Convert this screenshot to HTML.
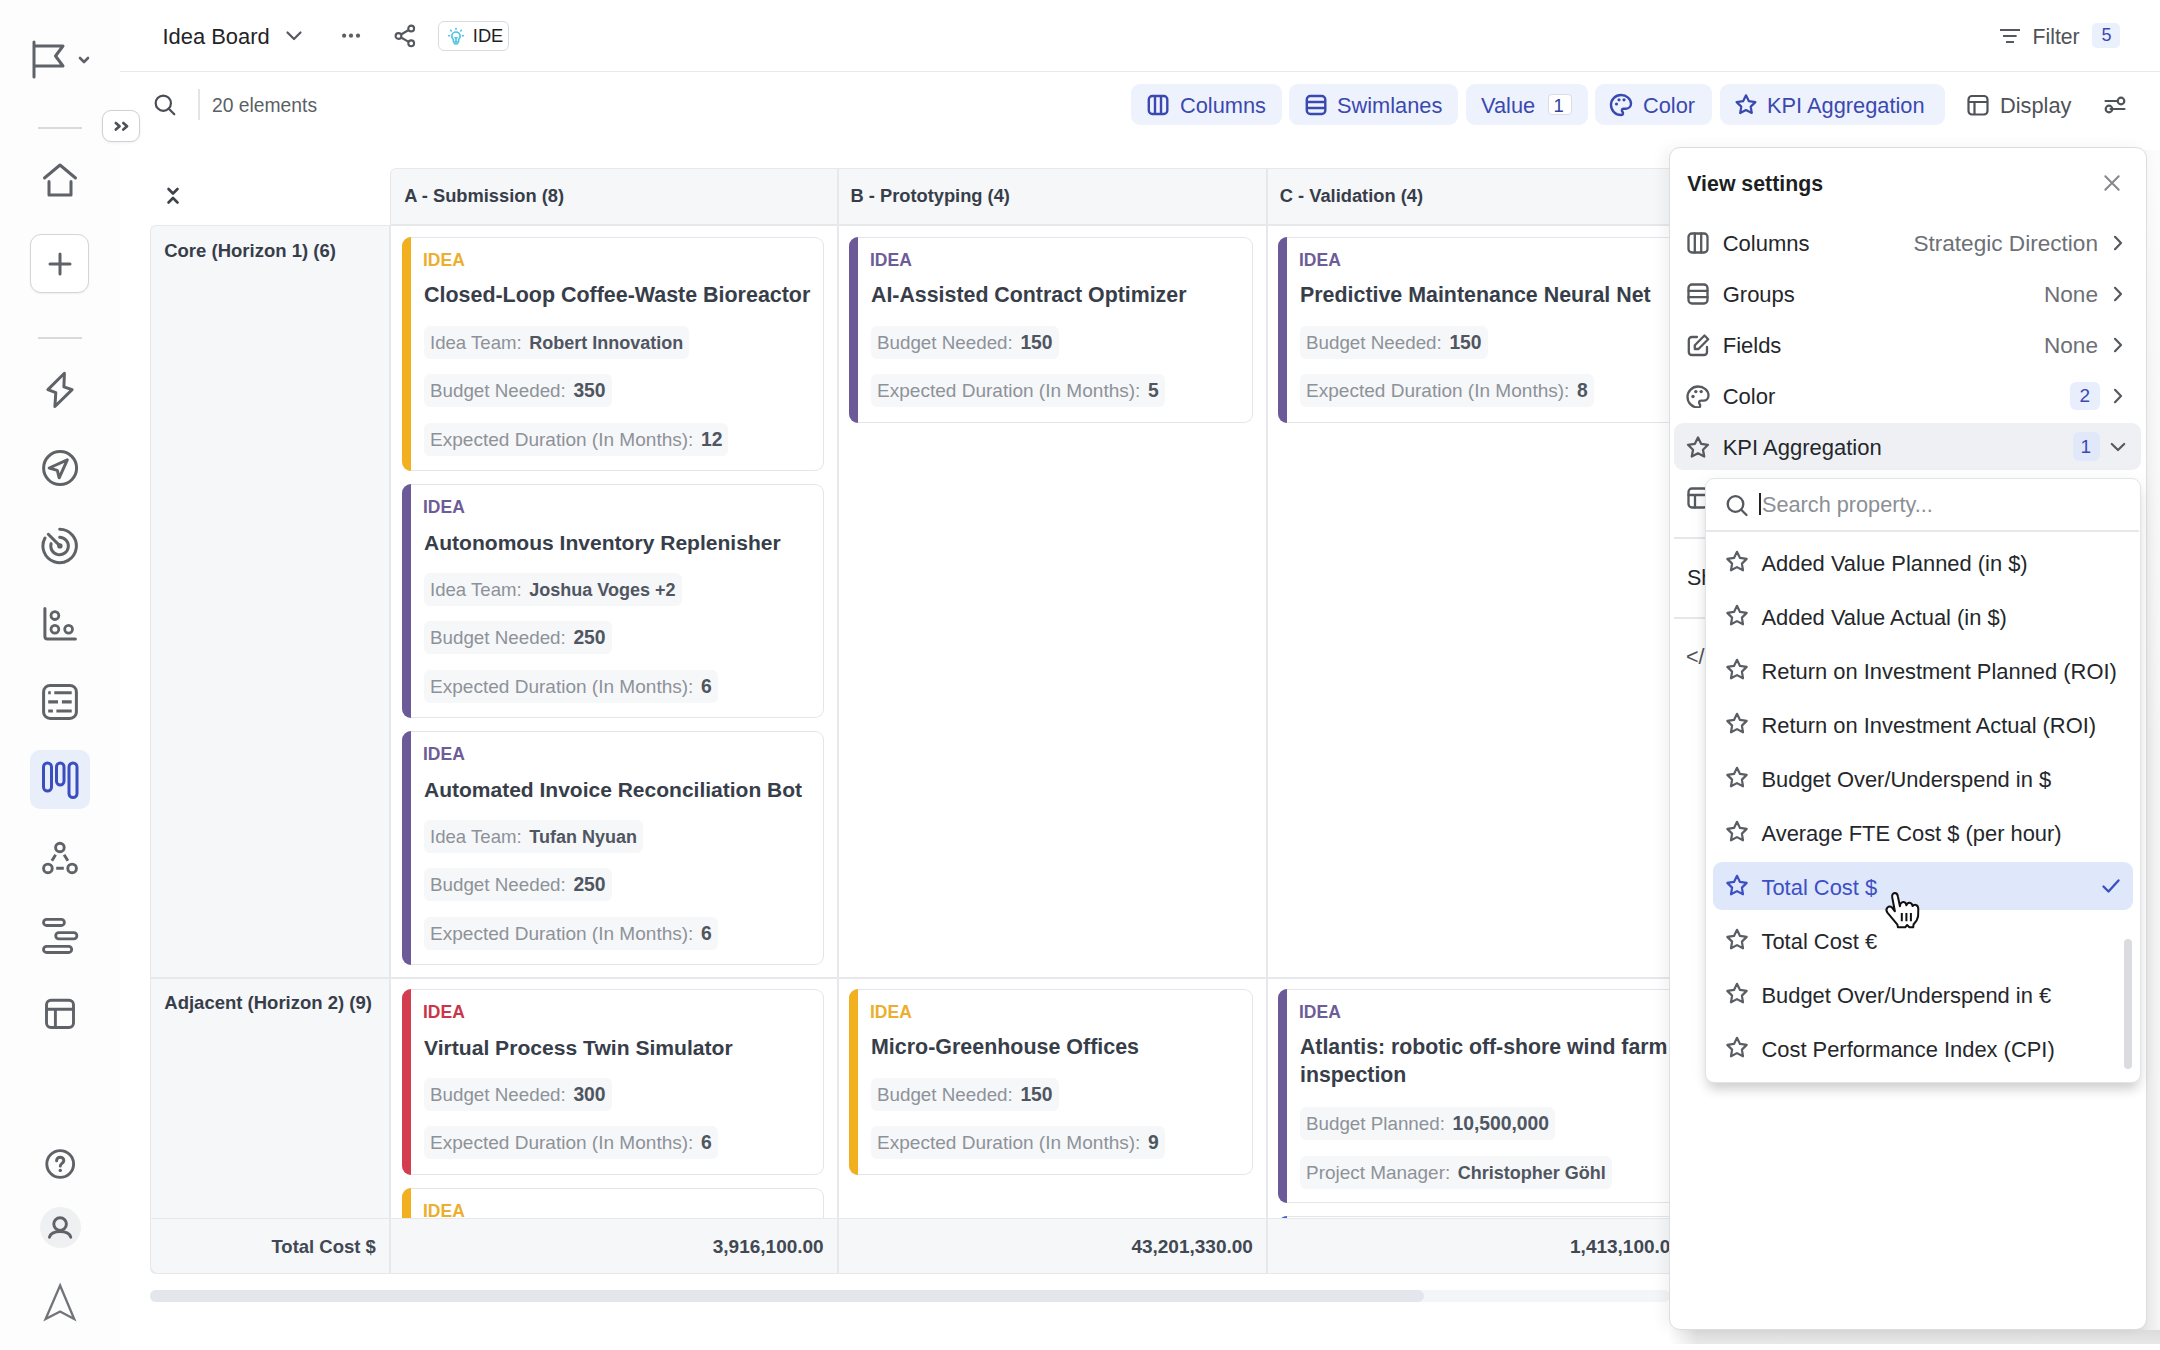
<!DOCTYPE html><html><head><meta charset="utf-8"><style>
html,body{margin:0;padding:0;width:2160px;height:1350px;overflow:hidden;background:#fff;}
body{position:relative;font-family:"Liberation Sans",sans-serif;}
.t{position:absolute;white-space:nowrap;line-height:1;}
.r{position:absolute;}
</style></head><body>
<div class="r" style="left:0px;top:0px;width:120px;height:1350px;background:#fdfdfd;"></div>
<svg class="r" style="left:28px;top:38px;" width="64" height="44" viewBox="0 0 64 44" fill="none"><path d="M6 39V4 M6 8H35L27.5 18L35 28H6" stroke="#5f6368" stroke-width="3" stroke-linecap="round" stroke-linejoin="round"/><path d="M52 20L56 24L60 20" stroke="#5f6368" stroke-width="2.6" stroke-linecap="round" stroke-linejoin="round"/></svg>
<div class="r" style="left:38px;top:127px;width:44px;height:2px;background:#d9dadc;"></div>
<svg class="r" style="left:40px;top:160px;" width="40" height="40" viewBox="0 0 40 40" fill="none"><path d="M4.5 18L20 5L35.5 18 M9 21.5V35H31V21.5" stroke="#5f6368" stroke-width="3" stroke-linecap="round" stroke-linejoin="round"/></svg>
<div class="r" style="left:30px;top:234px;width:59px;height:59px;background:#fff;border:1.5px solid #d3d5d8;border-radius:11px;box-sizing:border-box;box-shadow:0 1px 2px rgba(0,0,0,0.06);"></div>
<svg class="r" style="left:45px;top:249px;" width="30" height="30" viewBox="0 0 30 30" fill="none"><path d="M15 5V25 M5 15H25" stroke="#5f6368" stroke-width="3" stroke-linecap="round" stroke-linejoin="round"/></svg>
<div class="r" style="left:38px;top:337px;width:44px;height:2px;background:#d9dadc;"></div>
<svg class="r" style="left:42px;top:369px;" width="36" height="42" viewBox="0 0 36 42" fill="none"><path d="M22.4 4.3L5.9 20.6L13.8 23.6L12.9 37.5L30.1 20.6L21.9 17.8Z" stroke="#5f6368" stroke-width="3" stroke-linecap="round" stroke-linejoin="round"/></svg>
<svg class="r" style="left:40px;top:448px;" width="40" height="40" viewBox="0 0 40 40" fill="none"><circle cx="20.1" cy="20.1" r="16.5" stroke="#5f6368" stroke-width="3" stroke-linecap="round" stroke-linejoin="round"/><path d="M27.3 11.8L9.2 20L17.3 22.4L19.2 29.8Z" stroke="#5f6368" stroke-width="3" stroke-linecap="round" stroke-linejoin="round"/></svg>
<svg class="r" style="left:40px;top:526px;" width="40" height="40" viewBox="0 0 40 40" fill="none"><path d="M19.7 3.3A16.7 16.7 0 1 1 5 12" stroke="#5f6368" stroke-width="3" stroke-linecap="round" stroke-linejoin="round"/><path d="M19.7 11.2A8.8 8.8 0 1 1 11.1 17.6" stroke="#5f6368" stroke-width="3" stroke-linecap="round" stroke-linejoin="round"/><path d="M8.3 8.3L19.9 19.9" stroke="#5f6368" stroke-width="3" stroke-linecap="round" stroke-linejoin="round"/><circle cx="19.9" cy="19.9" r="2.7" fill="#5f6368"/></svg>
<svg class="r" style="left:40px;top:604px;" width="40" height="40" viewBox="0 0 40 40" fill="none"><path d="M4.9 4.4V32.4Q4.9 34.9 7.4 34.9H35.4" stroke="#5f6368" stroke-width="3" stroke-linecap="round" stroke-linejoin="round"/><circle cx="14.9" cy="11.6" r="3.9" stroke="#5f6368" stroke-width="2.8"/><circle cx="14.9" cy="25.3" r="3.9" stroke="#5f6368" stroke-width="2.8"/><circle cx="28.6" cy="25.3" r="3.9" stroke="#5f6368" stroke-width="2.8"/></svg>
<svg class="r" style="left:40px;top:682px;" width="40" height="40" viewBox="0 0 40 40" fill="none"><rect x="3.6" y="3.4" width="32.8" height="33" rx="6.5" stroke="#5f6368" stroke-width="3"/><path d="M8.2 10.8H10.8 M14.3 10.8H31.7 M8.2 19.9H18 M21.9 19.9H31.7 M8.2 29H12.9 M16.4 29H31.7" stroke="#5f6368" stroke-width="3.1"/></svg>
<div class="r" style="left:30px;top:750px;width:60px;height:59px;background:#e9eefb;border-radius:10px;"></div>
<svg class="r" style="left:40px;top:760px;" width="40" height="40" viewBox="0 0 40 40" fill="none"><rect x="3.5" y="3" width="8" height="28" rx="4" stroke="#3a4ec0" stroke-width="3"/><rect x="16.5" y="3" width="7.5" height="22" rx="3.75" stroke="#3a4ec0" stroke-width="3"/><rect x="29" y="3" width="8" height="34.5" rx="4" stroke="#3a4ec0" stroke-width="3"/></svg>
<svg class="r" style="left:40px;top:838px;" width="40" height="40" viewBox="0 0 40 40" fill="none"><circle cx="19.9" cy="9.5" r="4.3" stroke="#5f6368" stroke-width="2.9"/><circle cx="7.9" cy="30.4" r="4.3" stroke="#5f6368" stroke-width="2.9"/><circle cx="32.1" cy="30.4" r="4.3" stroke="#5f6368" stroke-width="2.9"/><path d="M15.6 16.7L11.9 22.7 M24.1 16.7L27.9 22.7 M16.2 30.3H23.8" stroke="#5f6368" stroke-width="2.9"/></svg>
<svg class="r" style="left:40px;top:916px;" width="40" height="40" viewBox="0 0 40 40" fill="none"><rect x="3.5" y="3.4" width="20.9" height="6.1" rx="3.05" stroke="#5f6368" stroke-width="2.8"/><rect x="15.7" y="16.7" width="21.2" height="6.1" rx="3.05" stroke="#5f6368" stroke-width="2.8"/><rect x="3.5" y="30.4" width="28.2" height="6.1" rx="3.05" stroke="#5f6368" stroke-width="2.8"/></svg>
<svg class="r" style="left:40px;top:994px;" width="40" height="40" viewBox="0 0 40 40" fill="none"><rect x="6.5" y="6.3" width="27" height="27.2" rx="4.5" stroke="#5f6368" stroke-width="2.9"/><path d="M6.5 15.3H33.5 M15.4 15.3V33.5" stroke="#5f6368" stroke-width="2.9"/></svg>
<svg class="r" style="left:40px;top:1144px;" width="40" height="40" viewBox="0 0 40 40" fill="none"><circle cx="20.2" cy="20" r="13.4" stroke="#5f6368" stroke-width="2.9"/><path d="M16.6 16.8C16.6 14.6 18.2 13.2 20.2 13.2C22.3 13.2 23.8 14.6 23.8 16.5C23.8 19.2 20.3 19.4 20.3 22" stroke="#5f6368" stroke-width="3" stroke-linecap="round" stroke-linejoin="round"/><circle cx="20.3" cy="26.4" r="1.7" fill="#5f6368"/></svg>
<div class="r" style="left:40px;top:1207px;width:41px;height:41px;background:#eff0f2;border-radius:50%;"></div>
<svg class="r" style="left:40px;top:1207px;" width="40" height="40" viewBox="0 0 40 40" fill="none"><circle cx="20.1" cy="17.1" r="6.3" stroke="#5f6368" stroke-width="2.9"/><path d="M9.5 30.2C10.5 26.6 14.5 24.6 20.1 24.6C25.7 24.6 29.7 26.6 30.7 30.2" stroke="#5f6368" stroke-width="3" stroke-linecap="round" stroke-linejoin="round"/></svg>
<svg class="r" style="left:40px;top:1280px;" width="40" height="44" viewBox="0 0 40 44" fill="none"><path d="M20.1 5.5L5.6 39L20.1 31.5L34.2 39Z" stroke="#717479" stroke-width="2.3" stroke-linejoin="miter"/></svg>
<div class="r" style="left:120px;top:71px;width:2040px;height:1.2px;background:#e8e9eb;"></div>
<div class="r" style="left:102px;top:110px;width:38px;height:32px;background:#fff;border:1.5px solid #d0d1d4;border-radius:9px;box-sizing:border-box;box-shadow:0 1px 3px rgba(0,0,0,0.06);"></div>
<svg class="r" style="left:111px;top:116px;" width="20" height="20" viewBox="0 0 20 20" fill="none"><path d="M4.8 7L8.6 10.3L4.8 13.6 M12.3 7L16.1 10.3L12.3 13.6" stroke="#4d5055" stroke-width="2.6" stroke-linecap="round" stroke-linejoin="round"/></svg>
<div class="t" style="left:162.5px;top:26.0px;font-size:21.9px;font-weight:normal;color:#1f2328;">Idea Board</div>
<svg class="r" style="left:282px;top:28px;" width="24" height="16" viewBox="0 0 24 16" fill="none"><path d="M5.5 4.5L12 11L18.5 4.5" stroke="#55585d" stroke-width="2.2" stroke-linecap="round" stroke-linejoin="round"/></svg>
<svg class="r" style="left:338px;top:30px;" width="26" height="12" viewBox="0 0 26 12" fill="none"><circle cx="6.1" cy="5.7" r="2.1" fill="#5b5e63"/><circle cx="13" cy="5.7" r="2.1" fill="#5b5e63"/><circle cx="20" cy="5.7" r="2.1" fill="#5b5e63"/></svg>
<svg class="r" style="left:392px;top:22px;" width="26" height="28" viewBox="0 0 26 28" fill="none"><circle cx="19.2" cy="6.5" r="2.9" stroke="#55585d" stroke-width="2.1"/><circle cx="6.5" cy="14" r="2.9" stroke="#55585d" stroke-width="2.1"/><circle cx="19.2" cy="21.3" r="2.9" stroke="#55585d" stroke-width="2.1"/><path d="M9 12.5L16.7 8 M9 15.5L16.7 19.8" stroke="#55585d" stroke-width="2.1"/></svg>
<div class="r" style="left:438px;top:21px;width:71px;height:30px;border:1.5px solid #d8dadd;border-radius:6px;box-sizing:border-box;background:#fff;"></div>
<svg class="r" style="left:446px;top:26px;" width="20" height="20" viewBox="0 0 20 20" fill="none"><path d="M10 6C7.6 6 5.8 7.9 5.8 10.2C5.8 11.8 6.7 12.8 7.4 13.6V16H12.6V13.6C13.3 12.8 14.2 11.8 14.2 10.2C14.2 7.9 12.4 6 10 6Z M8.3 17.8H11.7 M9 11.5L10 12.5L11 11.5 M10 12.5V15.5" stroke="#4cc3e0" stroke-width="1.6" stroke-linecap="round" stroke-linejoin="round"/><path d="M10 2.2V3.2 M4.6 4.2L5.3 4.9 M15.4 4.2L14.7 4.9 M2.6 9.8H3.6 M16.4 9.8H17.4" stroke="#4cc3e0" stroke-width="1.5" stroke-linecap="round"/></svg>
<div class="t" style="left:472.8px;top:26.8px;font-size:18.3px;font-weight:normal;color:#1d1f22;">IDE</div>
<svg class="r" style="left:1996px;top:24px;" width="28" height="24" viewBox="0 0 28 24" fill="none"><path d="M4 6H24 M7 12H20.6 M10 18H18" stroke="#55585d" stroke-width="2.1"/></svg>
<div class="t" style="left:2032.6px;top:25.6px;font-size:21.2px;font-weight:normal;color:#4f5257;">Filter</div>
<div class="r" style="left:2092px;top:23px;width:28px;height:25px;background:#ebf0fd;border-radius:5px;"></div>
<div class="t" style="left:2101.5px;top:26.1px;font-size:18px;font-weight:normal;color:#3b49b4;">5</div>
<svg class="r" style="left:150px;top:90px;" width="30" height="30" viewBox="0 0 30 30" fill="none"><circle cx="13.3" cy="13.2" r="7.6" stroke="#4a4e54" stroke-width="2.2"/><path d="M18.8 18.8L24.3 24.3" stroke="#4a4e54" stroke-width="2.2" stroke-linecap="round"/></svg>
<div class="r" style="left:198px;top:89px;width:1.5px;height:31px;background:#e3e4e7;"></div>
<div class="t" style="left:212.0px;top:95.5px;font-size:19.3px;font-weight:normal;color:#5b5f66;">20 elements</div>
<div class="r" style="left:1131px;top:84px;width:151px;height:41px;background:#eef2fd;border-radius:9px;"></div>
<div class="t" style="left:1180.0px;top:95.0px;font-size:21.8px;font-weight:normal;color:#3a49b0;">Columns</div>
<svg class="r" style="left:1146px;top:94px;" width="24" height="22" viewBox="0 0 24 22" fill="none"><rect x="2.8" y="2" width="18.5" height="18" rx="3.5" stroke="#3a49b0" stroke-width="2.4"/><path d="M9 2V20 M15 2V20" stroke="#3a49b0" stroke-width="2.4"/></svg>
<div class="r" style="left:1289px;top:84px;width:169px;height:41px;background:#eef2fd;border-radius:9px;"></div>
<div class="t" style="left:1337.0px;top:95.0px;font-size:21.8px;font-weight:normal;color:#3a49b0;">Swimlanes</div>
<svg class="r" style="left:1304px;top:94px;" width="24" height="22" viewBox="0 0 24 22" fill="none"><rect x="2.8" y="2" width="18.5" height="18" rx="3.5" stroke="#3a49b0" stroke-width="2.4"/><path d="M2.8 8H21.3 M2.8 14H21.3" stroke="#3a49b0" stroke-width="2.4"/></svg>
<div class="r" style="left:1466px;top:84px;width:122px;height:41px;background:#eef2fd;border-radius:9px;"></div>
<div class="t" style="left:1481.0px;top:95.0px;font-size:21.8px;font-weight:normal;color:#3a49b0;">Value</div>
<div class="r" style="left:1548px;top:94px;width:24px;height:21px;background:#fff;border:1.2px solid #d9dde8;border-radius:4px;box-sizing:border-box;"></div>
<div class="t" style="left:1553.5px;top:96.8px;font-size:18.5px;font-weight:normal;color:#3540a0;">1</div>
<div class="r" style="left:1595px;top:84px;width:117px;height:41px;background:#eef2fd;border-radius:9px;"></div>
<div class="t" style="left:1643.0px;top:95.0px;font-size:21.8px;font-weight:normal;color:#3a49b0;">Color</div>
<svg class="r" style="left:1608px;top:92px;" width="26" height="26" viewBox="0 0 26 26" fill="none"><path d="M13 3C7.5 3 3 7.5 3 13C3 18.5 7.5 23 13 23C14.3 23 15 22.2 15 21.2C15 20.6 14.7 20.2 14.4 19.8C14.1 19.4 13.9 19 13.9 18.5C13.9 17.5 14.7 16.7 15.7 16.7H18C20.8 16.7 23 14.5 23 11.8C23 6.9 18.5 3 13 3Z" stroke="#3a49b0" stroke-width="2.4"/><circle cx="8.5" cy="12" r="1.6" fill="#3a49b0"/><circle cx="11" cy="7.8" r="1.6" fill="#3a49b0"/><circle cx="16" cy="7.8" r="1.6" fill="#3a49b0"/></svg>
<div class="r" style="left:1720px;top:84px;width:225px;height:41px;background:#eef2fd;border-radius:9px;"></div>
<div class="t" style="left:1767.0px;top:95.0px;font-size:21.8px;font-weight:normal;color:#3a49b0;">KPI Aggregation</div>
<svg class="r" style="left:1733px;top:92px;" width="26" height="26" viewBox="0 0 26 26" fill="none"><path d="M13 3.3L15.9 9.2L22.4 10.1L17.7 14.6L18.8 21L13 18L7.2 21L8.3 14.6L3.6 10.1L10.1 9.2Z" stroke="#3a49b0" stroke-width="2.2" stroke-linejoin="round"/></svg>
<svg class="r" style="left:1966px;top:94px;" width="24" height="22" viewBox="0 0 24 22" fill="none"><rect x="2.5" y="2" width="19" height="18.5" rx="3.5" stroke="#4f5257" stroke-width="2.2"/><path d="M2.5 8H21.5 M8.5 8V20.5" stroke="#4f5257" stroke-width="2.2"/></svg>
<div class="t" style="left:2000.0px;top:95.0px;font-size:21.8px;font-weight:normal;color:#4f5257;">Display</div>
<svg class="r" style="left:2100px;top:90px;" width="30" height="30" viewBox="0 0 30 30" fill="none"><path d="M5.5 11H17.5 M10.5 19H24.5" stroke="#4f5257" stroke-width="2.2" stroke-linecap="round"/><circle cx="21" cy="11" r="3.3" stroke="#4f5257" stroke-width="2.2"/><circle cx="9" cy="19" r="3.3" stroke="#4f5257" stroke-width="2.2"/></svg>
<svg class="r" style="left:163px;top:185px;" width="20" height="22" viewBox="0 0 20 22" fill="none"><path d="M5.5 4L10 8.5L14.5 4 M5.5 17.5L10 13L14.5 17.5" stroke="#3d424b" stroke-width="2.6" stroke-linecap="round" stroke-linejoin="round"/></svg>
<div class="r" style="left:390px;top:168px;width:1300px;height:57px;background:#f6f7f9;border:1.5px solid #e6e8eb;border-bottom:none;border-top-left-radius:6px;box-sizing:border-box;"></div>
<div class="r" style="left:390px;top:224px;width:1300px;height:1.5px;background:#e6e8eb;"></div>
<div class="r" style="left:150px;top:225px;width:240px;height:1049px;background:#f6f7f9;border:1.5px solid #e6e8eb;border-right:none;border-top-left-radius:6px;border-bottom-left-radius:6px;box-sizing:border-box;"></div>
<div class="r" style="left:389px;top:225px;width:1.5px;height:1049px;background:#e6e8eb;"></div>
<div class="r" style="left:837px;top:168px;width:1.5px;height:1106px;background:#e6e8eb;"></div>
<div class="r" style="left:1266px;top:168px;width:1.5px;height:1106px;background:#e6e8eb;"></div>
<div class="r" style="left:150px;top:977px;width:1520px;height:1.5px;background:#e6e8eb;"></div>
<div class="r" style="left:150px;top:1218px;width:1520px;height:56px;background:#f6f7f9;border-top:1.5px solid #e6e8eb;border-bottom:1.5px solid #e6e8eb;border-left:1.5px solid #e6e8eb;border-bottom-left-radius:8px;box-sizing:border-box;"></div>
<div class="r" style="left:389px;top:1218px;width:1.5px;height:56px;background:#e6e8eb;"></div>
<div class="r" style="left:837px;top:1218px;width:1.5px;height:56px;background:#e6e8eb;"></div>
<div class="r" style="left:1266px;top:1218px;width:1.5px;height:56px;background:#e6e8eb;"></div>
<div class="r" style="left:150px;top:1290px;width:1520px;height:12px;background:#f4f5f7;border-radius:6px;"></div>
<div class="r" style="left:150px;top:1290px;width:1274px;height:12px;background:#e3e6eb;border-radius:6px;"></div>
<div class="t" style="left:404.2px;top:187.3px;font-size:18.3px;font-weight:bold;color:#373e4a;">A - Submission (8)</div>
<div class="t" style="left:850.5px;top:187.3px;font-size:18.3px;font-weight:bold;color:#373e4a;">B - Prototyping (4)</div>
<div class="t" style="left:1279.8px;top:187.3px;font-size:18.3px;font-weight:bold;color:#373e4a;">C - Validation (4)</div>
<div class="t" style="left:164.2px;top:241.8px;font-size:18.5px;font-weight:bold;color:#373e4a;">Core (Horizon 1) (6)</div>
<div class="t" style="left:164.3px;top:993.6px;font-size:18.5px;font-weight:bold;color:#373e4a;">Adjacent (Horizon 2) (9)</div>
<div class="t" style="right:1784.1px;top:1237.8px;font-size:18.5px;font-weight:bold;color:#414853;">Total Cost $</div>
<div class="t" style="right:1336.3px;top:1237.4px;font-size:19px;font-weight:bold;color:#414853;">3,916,100.00</div>
<div class="t" style="right:907.1px;top:1237.4px;font-size:19px;font-weight:bold;color:#414853;">43,201,330.00</div>
<div class="t" style="right:479.0px;top:1237.4px;font-size:19px;font-weight:bold;color:#414853;">1,413,100.00</div>
<style>
.chip{position:absolute;height:33px;line-height:33px;padding:0 6px 0 6px;background:#f6f7f9;border-radius:6px;white-space:nowrap;font-size:18.4px;}
.cl{color:#8d9299;font-size:18.8px;}
.cv{color:#4f5661;font-weight:bold;font-size:18px;margin-left:2.5px;}
</style>
<div class="r" style="left:402px;top:237px;width:422px;height:234px;background:#fff;border:1.5px solid #e3e5e8;border-left:none;border-radius:9px;box-sizing:border-box;"></div>
<div class="r" style="left:402px;top:237px;width:9px;height:234px;background:#f2b01e;border-top-left-radius:9px;border-bottom-left-radius:9px;"></div>
<div class="t" style="left:423.0px;top:251.7px;font-size:17.5px;font-weight:bold;color:#ecae2e;">IDEA</div>
<div class="t" style="left:424.0px;top:284.8px;font-size:21.45px;font-weight:bold;color:#373e4a;">Closed-Loop Coffee-Waste Bioreactor</div>
<div class="chip" style="left:424px;top:325.5px;"><span class="cl" style="font-size:18.6px">Idea Team:</span> <span class="cv" style="font-size:18.0px">Robert Innovation</span></div>
<div class="chip" style="left:424px;top:374.0px;"><span class="cl" style="font-size:18.8px">Budget Needed:</span> <span class="cv" style="font-size:19.3px">350</span></div>
<div class="chip" style="left:424px;top:422.5px;"><span class="cl" style="font-size:19.05px">Expected Duration (In Months):</span> <span class="cv" style="font-size:19.3px">12</span></div>
<div class="r" style="left:402px;top:484px;width:422px;height:234px;background:#fff;border:1.5px solid #e3e5e8;border-left:none;border-radius:9px;box-sizing:border-box;"></div>
<div class="r" style="left:402px;top:484px;width:9px;height:234px;background:#6c5a98;border-top-left-radius:9px;border-bottom-left-radius:9px;"></div>
<div class="t" style="left:423.0px;top:498.7px;font-size:17.5px;font-weight:bold;color:#6d5c97;">IDEA</div>
<div class="t" style="left:424.0px;top:532.2px;font-size:21.05px;font-weight:bold;color:#373e4a;">Autonomous Inventory Replenisher</div>
<div class="chip" style="left:424px;top:572.5px;"><span class="cl" style="font-size:18.6px">Idea Team:</span> <span class="cv" style="font-size:18.0px">Joshua Voges +2</span></div>
<div class="chip" style="left:424px;top:621.0px;"><span class="cl" style="font-size:18.8px">Budget Needed:</span> <span class="cv" style="font-size:19.3px">250</span></div>
<div class="chip" style="left:424px;top:669.5px;"><span class="cl" style="font-size:19.05px">Expected Duration (In Months):</span> <span class="cv" style="font-size:19.3px">6</span></div>
<div class="r" style="left:402px;top:731px;width:422px;height:234px;background:#fff;border:1.5px solid #e3e5e8;border-left:none;border-radius:9px;box-sizing:border-box;"></div>
<div class="r" style="left:402px;top:731px;width:9px;height:234px;background:#6c5a98;border-top-left-radius:9px;border-bottom-left-radius:9px;"></div>
<div class="t" style="left:423.0px;top:745.7px;font-size:17.5px;font-weight:bold;color:#6d5c97;">IDEA</div>
<div class="t" style="left:424.0px;top:779.2px;font-size:21.0px;font-weight:bold;color:#373e4a;">Automated Invoice Reconciliation Bot</div>
<div class="chip" style="left:424px;top:819.5px;"><span class="cl" style="font-size:18.6px">Idea Team:</span> <span class="cv" style="font-size:18.0px">Tufan Nyuan</span></div>
<div class="chip" style="left:424px;top:868.0px;"><span class="cl" style="font-size:18.8px">Budget Needed:</span> <span class="cv" style="font-size:19.3px">250</span></div>
<div class="chip" style="left:424px;top:916.5px;"><span class="cl" style="font-size:19.05px">Expected Duration (In Months):</span> <span class="cv" style="font-size:19.3px">6</span></div>
<div class="r" style="left:849px;top:237px;width:404px;height:186px;background:#fff;border:1.5px solid #e3e5e8;border-left:none;border-radius:9px;box-sizing:border-box;"></div>
<div class="r" style="left:849px;top:237px;width:9px;height:186px;background:#6c5a98;border-top-left-radius:9px;border-bottom-left-radius:9px;"></div>
<div class="t" style="left:870.0px;top:251.7px;font-size:17.5px;font-weight:bold;color:#6d5c97;">IDEA</div>
<div class="t" style="left:871.0px;top:284.9px;font-size:21.35px;font-weight:bold;color:#373e4a;">AI-Assisted Contract Optimizer</div>
<div class="chip" style="left:871px;top:325.5px;"><span class="cl" style="font-size:18.8px">Budget Needed:</span> <span class="cv" style="font-size:19.3px">150</span></div>
<div class="chip" style="left:871px;top:374.0px;"><span class="cl" style="font-size:19.05px">Expected Duration (In Months):</span> <span class="cv" style="font-size:19.3px">5</span></div>
<div class="r" style="left:1278px;top:237px;width:422px;height:186px;background:#fff;border:1.5px solid #e3e5e8;border-left:none;border-radius:9px;box-sizing:border-box;"></div>
<div class="r" style="left:1278px;top:237px;width:9px;height:186px;background:#6c5a98;border-top-left-radius:9px;border-bottom-left-radius:9px;"></div>
<div class="t" style="left:1299.0px;top:251.7px;font-size:17.5px;font-weight:bold;color:#6d5c97;">IDEA</div>
<div class="t" style="left:1300.0px;top:284.9px;font-size:21.4px;font-weight:bold;color:#373e4a;">Predictive Maintenance Neural Net</div>
<div class="chip" style="left:1300px;top:325.5px;"><span class="cl" style="font-size:18.8px">Budget Needed:</span> <span class="cv" style="font-size:19.3px">150</span></div>
<div class="chip" style="left:1300px;top:374.0px;"><span class="cl" style="font-size:19.05px">Expected Duration (In Months):</span> <span class="cv" style="font-size:19.3px">8</span></div>
<div class="r" style="left:150px;top:979px;width:1520px;height:239px;overflow:hidden;">
<div class="r" style="left:-150px;top:-979px;width:2160px;height:1350px;">
<div class="r" style="left:402px;top:989px;width:422px;height:186px;background:#fff;border:1.5px solid #e3e5e8;border-left:none;border-radius:9px;box-sizing:border-box;"></div>
<div class="r" style="left:402px;top:989px;width:9px;height:186px;background:#d43d50;border-top-left-radius:9px;border-bottom-left-radius:9px;"></div>
<div class="t" style="left:423.0px;top:1003.7px;font-size:17.5px;font-weight:bold;color:#cc3548;">IDEA</div>
<div class="t" style="left:424.0px;top:1037.1px;font-size:21.1px;font-weight:bold;color:#373e4a;">Virtual Process Twin Simulator</div>
<div class="chip" style="left:424px;top:1077.5px;"><span class="cl" style="font-size:18.8px">Budget Needed:</span> <span class="cv" style="font-size:19.3px">300</span></div>
<div class="chip" style="left:424px;top:1126.0px;"><span class="cl" style="font-size:19.05px">Expected Duration (In Months):</span> <span class="cv" style="font-size:19.3px">6</span></div>
<div class="r" style="left:402px;top:1188px;width:422px;height:186px;background:#fff;border:1.5px solid #e3e5e8;border-left:none;border-radius:9px;box-sizing:border-box;"></div>
<div class="r" style="left:402px;top:1188px;width:9px;height:186px;background:#f2b01e;border-top-left-radius:9px;border-bottom-left-radius:9px;"></div>
<div class="t" style="left:423.0px;top:1202.7px;font-size:17.5px;font-weight:bold;color:#ecae2e;">IDEA</div>
<div class="t" style="left:424.0px;top:1236.0px;font-size:21.25px;font-weight:bold;color:#373e4a;"></div>
<div class="r" style="left:849px;top:989px;width:404px;height:186px;background:#fff;border:1.5px solid #e3e5e8;border-left:none;border-radius:9px;box-sizing:border-box;"></div>
<div class="r" style="left:849px;top:989px;width:9px;height:186px;background:#f2b01e;border-top-left-radius:9px;border-bottom-left-radius:9px;"></div>
<div class="t" style="left:870.0px;top:1003.7px;font-size:17.5px;font-weight:bold;color:#ecae2e;">IDEA</div>
<div class="t" style="left:871.0px;top:1036.8px;font-size:21.45px;font-weight:bold;color:#373e4a;">Micro-Greenhouse Offices</div>
<div class="chip" style="left:871px;top:1077.5px;"><span class="cl" style="font-size:18.8px">Budget Needed:</span> <span class="cv" style="font-size:19.3px">150</span></div>
<div class="chip" style="left:871px;top:1126.0px;"><span class="cl" style="font-size:19.05px">Expected Duration (In Months):</span> <span class="cv" style="font-size:19.3px">9</span></div>
<div class="r" style="left:1278px;top:989px;width:422px;height:214px;background:#fff;border:1.5px solid #e3e5e8;border-left:none;border-radius:9px;box-sizing:border-box;"></div>
<div class="r" style="left:1278px;top:989px;width:9px;height:214px;background:#6c5a98;border-top-left-radius:9px;border-bottom-left-radius:9px;"></div>
<div class="t" style="left:1299.0px;top:1003.7px;font-size:17.5px;font-weight:bold;color:#6d5c97;">IDEA</div>
<div class="t" style="left:1300.0px;top:1037.0px;font-size:21.28px;font-weight:bold;color:#373e4a;">Atlantis: robotic off-shore wind farm</div>
<div class="t" style="left:1300.0px;top:1064.5px;font-size:21.28px;font-weight:bold;color:#373e4a;">inspection</div>
<div class="chip" style="left:1300px;top:1107.0px;"><span class="cl" style="font-size:18.8px">Budget Planned:</span> <span class="cv" style="font-size:19.3px">10,500,000</span></div>
<div class="chip" style="left:1300px;top:1155.5px;"><span class="cl" style="font-size:18.94px">Project Manager:</span> <span class="cv" style="font-size:18.0px">Christopher Göhl</span></div>
<div class="r" style="left:1278px;top:1216px;width:422px;height:186px;background:#fff;border:1.5px solid #e3e5e8;border-left:none;border-radius:9px;box-sizing:border-box;"></div>
<div class="r" style="left:1278px;top:1216px;width:9px;height:186px;background:#4a63c8;border-top-left-radius:9px;border-bottom-left-radius:9px;"></div>
<div class="t" style="left:1299.0px;top:1230.7px;font-size:17.5px;font-weight:bold;color:#4a63c8;">IDEA</div>
<div class="t" style="left:1300.0px;top:1264.0px;font-size:21.25px;font-weight:bold;color:#373e4a;"></div>
</div></div>
<div class="r" style="left:1669px;top:1318px;width:491px;height:26px;background:linear-gradient(to bottom,#d9d9d9,#dcdcdc 50%,#e8e8e8);-webkit-mask-image:linear-gradient(to right,transparent 0,#000 28px);"></div>
<div class="r" style="left:2140px;top:150px;width:20px;height:1180px;background:linear-gradient(to right,#dedede,#eaeaea 40%,#f6f6f6);-webkit-mask-image:linear-gradient(to bottom,rgba(0,0,0,0.25) 0,#000 600px);"></div>
<div class="r" style="left:1669px;top:147px;width:478px;height:1183px;background:#fff;border:1.5px solid #dcdde0;border-radius:11px;box-sizing:border-box;box-shadow:-6px 0 14px rgba(0,0,0,0.05);"></div>
<div class="t" style="left:1687.3px;top:173.7px;font-size:21.3px;font-weight:bold;color:#1c1f23;">View settings</div>
<svg class="r" style="left:2100px;top:171px;" width="24" height="24" viewBox="0 0 24 24" fill="none"><path d="M5.3 5.3L18.7 18.7 M18.7 5.3L5.3 18.7" stroke="#85878b" stroke-width="2" stroke-linecap="round"/></svg>
<div class="r" style="left:1674px;top:423px;width:467px;height:47px;background:#eef0f3;border-radius:9px;"></div>
<svg class="r" style="left:1685px;top:231px;" width="26" height="24" viewBox="0 0 26 24" fill="none"><rect x="3.5" y="2.5" width="19" height="19" rx="3.5" stroke="#56595e" stroke-width="2.3" stroke-linecap="round" stroke-linejoin="round"/><path d="M9.8 2.5V21.5 M16.2 2.5V21.5" stroke="#56595e" stroke-width="2.3" stroke-linecap="round" stroke-linejoin="round"/></svg>
<svg class="r" style="left:1685px;top:282px;" width="26" height="24" viewBox="0 0 26 24" fill="none"><rect x="3.5" y="2.5" width="19" height="19" rx="3.5" stroke="#56595e" stroke-width="2.3" stroke-linecap="round" stroke-linejoin="round"/><path d="M3.5 8.8H22.5 M3.5 15.2H22.5" stroke="#56595e" stroke-width="2.3" stroke-linecap="round" stroke-linejoin="round"/></svg>
<svg class="r" style="left:1685px;top:333px;" width="26" height="24" viewBox="0 0 26 24" fill="none"><path d="M12 4H7C5 4 3.8 5.2 3.8 7.2V19C3.8 21 5 22 7 22H18.8C20.8 22 22 21 22 19V14" stroke="#56595e" stroke-width="2.3" stroke-linecap="round" stroke-linejoin="round"/><path d="M19.5 2.5L23.2 6.2L13.5 16H9.8V12.3Z" stroke="#56595e" stroke-width="2.3" stroke-linecap="round" stroke-linejoin="round"/></svg>
<svg class="r" style="left:1685px;top:384px;" width="26" height="24" viewBox="0 0 26 24" fill="none"><path d="M13 2.5C7.2 2.5 2.5 7.2 2.5 13C2.5 18.8 7.2 23.5 13 23.5C14.4 23.5 15.2 22.6 15.2 21.5C15.2 20.9 14.9 20.4 14.6 20C14.3 19.6 14.1 19.2 14.1 18.6C14.1 17.5 15 16.6 16.1 16.6H18.5C21.4 16.6 23.5 14.3 23.5 11.5C23.5 6.5 18.8 2.5 13 2.5Z" stroke="#56595e" stroke-width="2.3" stroke-linecap="round" stroke-linejoin="round"/><circle cx="8" cy="12.5" r="1.7" fill="#56595e"/><circle cx="10.8" cy="7.6" r="1.7" fill="#56595e"/><circle cx="16.2" cy="7.6" r="1.7" fill="#56595e"/></svg>
<svg class="r" style="left:1685px;top:435px;" width="26" height="24" viewBox="0 0 26 24" fill="none"><path d="M13 2.5L16.1 8.8L23 9.8L18 14.7L19.2 21.5L13 18.3L6.8 21.5L8 14.7L3 9.8L9.9 8.8Z" stroke="#56595e" stroke-width="2.3" stroke-linecap="round" stroke-linejoin="round"/></svg>
<div class="t" style="left:1722.7px;top:233.2px;font-size:22px;font-weight:normal;color:#24272b;">Columns</div>
<div class="t" style="right:62.0px;top:232.7px;font-size:22.6px;font-weight:normal;color:#6d7076;">Strategic Direction</div>
<svg class="r" style="left:2108px;top:233px;" width="20" height="20" viewBox="0 0 20 20" fill="none"><path d="M7 3.8L13 10L7 16.2" stroke="#56595e" stroke-width="2.2" stroke-linecap="round" stroke-linejoin="round"/></svg>
<div class="t" style="left:1722.7px;top:284.2px;font-size:22px;font-weight:normal;color:#24272b;">Groups</div>
<div class="t" style="right:62.0px;top:283.7px;font-size:22.6px;font-weight:normal;color:#6d7076;">None</div>
<svg class="r" style="left:2108px;top:284px;" width="20" height="20" viewBox="0 0 20 20" fill="none"><path d="M7 3.8L13 10L7 16.2" stroke="#56595e" stroke-width="2.2" stroke-linecap="round" stroke-linejoin="round"/></svg>
<div class="t" style="left:1722.7px;top:335.2px;font-size:22px;font-weight:normal;color:#24272b;">Fields</div>
<div class="t" style="right:62.0px;top:334.7px;font-size:22.6px;font-weight:normal;color:#6d7076;">None</div>
<svg class="r" style="left:2108px;top:335px;" width="20" height="20" viewBox="0 0 20 20" fill="none"><path d="M7 3.8L13 10L7 16.2" stroke="#56595e" stroke-width="2.2" stroke-linecap="round" stroke-linejoin="round"/></svg>
<div class="t" style="left:1722.7px;top:386.2px;font-size:22px;font-weight:normal;color:#24272b;">Color</div>
<div class="t" style="left:1722.7px;top:437.2px;font-size:22px;font-weight:normal;color:#24272b;">KPI Aggregation</div>
<div class="r" style="left:2070px;top:382px;width:30px;height:28px;background:#e8eefc;border-radius:6px;"></div>
<div class="t" style="left:2079.5px;top:385.9px;font-size:19px;font-weight:normal;color:#3b49b4;">2</div>
<svg class="r" style="left:2108px;top:386px;" width="20" height="20" viewBox="0 0 20 20" fill="none"><path d="M7 3.8L13 10L7 16.2" stroke="#56595e" stroke-width="2.2" stroke-linecap="round" stroke-linejoin="round"/></svg>
<div class="r" style="left:2073px;top:432px;width:27px;height:29px;background:#e1e8fa;border-radius:6px;"></div>
<div class="t" style="left:2080.5px;top:436.9px;font-size:19px;font-weight:normal;color:#3b49b4;">1</div>
<svg class="r" style="left:2107px;top:437px;" width="22" height="20" viewBox="0 0 22 20" fill="none"><path d="M4.8 7L11 13L17.2 7" stroke="#56595e" stroke-width="2.2" stroke-linecap="round" stroke-linejoin="round"/></svg>
<svg class="r" style="left:1685px;top:486px;" width="26" height="24" viewBox="0 0 26 24" fill="none"><rect x="3.5" y="2.5" width="19" height="19" rx="3.5" stroke="#56595e" stroke-width="2.3" stroke-linecap="round" stroke-linejoin="round"/><path d="M3.5 9H22.5 M10 9V21.5" stroke="#56595e" stroke-width="2.3" stroke-linecap="round" stroke-linejoin="round"/></svg>
<div class="r" style="left:1674px;top:537px;width:40px;height:1.5px;background:#e6e7ea;"></div>
<div class="t" style="left:1687.0px;top:567.9px;font-size:21.5px;font-weight:normal;color:#24272b;">Show</div>
<div class="r" style="left:1674px;top:617px;width:40px;height:1.5px;background:#e6e7ea;"></div>
<div class="t" style="left:1686.0px;top:647.3px;font-size:21.5px;font-weight:normal;color:#505358;">&lt;/&gt;</div>
<div class="r" style="left:1705px;top:478px;width:436px;height:605px;background:#fff;border:1.5px solid #e3e4e7;border-radius:9px;box-sizing:border-box;box-shadow:0 9px 12px -3px rgba(0,0,0,0.16),0 3px 18px rgba(0,0,0,0.06);"></div>
<svg class="r" style="left:1722px;top:491px;" width="30" height="30" viewBox="0 0 30 30" fill="none"><circle cx="13.5" cy="13" r="7.8" stroke="#55585e" stroke-width="2.3"/><path d="M19.2 18.8L24.5 24" stroke="#55585e" stroke-width="2.3" stroke-linecap="round"/></svg>
<div class="r" style="left:1759px;top:493px;width:2px;height:22px;background:#1f2226;"></div>
<div class="t" style="left:1762.0px;top:493.9px;font-size:21.7px;font-weight:normal;color:#8b8f96;">Search property...</div>
<div class="r" style="left:1706px;top:530px;width:433px;height:1.5px;background:#e6e7ea;"></div>
<div class="r" style="left:1713px;top:862px;width:420px;height:48px;background:#dfe7fb;border-radius:9px;"></div>
<svg class="r" style="left:1724px;top:549px;" width="26" height="26" viewBox="0 0 26 26" fill="none"><path d="M13 2.8L16 8.9L22.7 9.9L17.9 14.6L19 21.3L13 18.1L7 21.3L8.1 14.6L3.3 9.9L10 8.9Z" stroke="#5a5d63" stroke-width="2.2" stroke-linejoin="round"/></svg>
<div class="t" style="left:1761.5px;top:552.5px;font-size:21.9px;font-weight:normal;color:#24272b;">Added Value Planned (in $)</div>
<svg class="r" style="left:1724px;top:603px;" width="26" height="26" viewBox="0 0 26 26" fill="none"><path d="M13 2.8L16 8.9L22.7 9.9L17.9 14.6L19 21.3L13 18.1L7 21.3L8.1 14.6L3.3 9.9L10 8.9Z" stroke="#5a5d63" stroke-width="2.2" stroke-linejoin="round"/></svg>
<div class="t" style="left:1761.5px;top:606.5px;font-size:21.9px;font-weight:normal;color:#24272b;">Added Value Actual (in $)</div>
<svg class="r" style="left:1724px;top:657px;" width="26" height="26" viewBox="0 0 26 26" fill="none"><path d="M13 2.8L16 8.9L22.7 9.9L17.9 14.6L19 21.3L13 18.1L7 21.3L8.1 14.6L3.3 9.9L10 8.9Z" stroke="#5a5d63" stroke-width="2.2" stroke-linejoin="round"/></svg>
<div class="t" style="left:1761.5px;top:660.5px;font-size:21.9px;font-weight:normal;color:#24272b;">Return on Investment Planned (ROI)</div>
<svg class="r" style="left:1724px;top:711px;" width="26" height="26" viewBox="0 0 26 26" fill="none"><path d="M13 2.8L16 8.9L22.7 9.9L17.9 14.6L19 21.3L13 18.1L7 21.3L8.1 14.6L3.3 9.9L10 8.9Z" stroke="#5a5d63" stroke-width="2.2" stroke-linejoin="round"/></svg>
<div class="t" style="left:1761.5px;top:714.5px;font-size:21.9px;font-weight:normal;color:#24272b;">Return on Investment Actual (ROI)</div>
<svg class="r" style="left:1724px;top:765px;" width="26" height="26" viewBox="0 0 26 26" fill="none"><path d="M13 2.8L16 8.9L22.7 9.9L17.9 14.6L19 21.3L13 18.1L7 21.3L8.1 14.6L3.3 9.9L10 8.9Z" stroke="#5a5d63" stroke-width="2.2" stroke-linejoin="round"/></svg>
<div class="t" style="left:1761.5px;top:768.5px;font-size:21.9px;font-weight:normal;color:#24272b;">Budget Over/Underspend in $</div>
<svg class="r" style="left:1724px;top:819px;" width="26" height="26" viewBox="0 0 26 26" fill="none"><path d="M13 2.8L16 8.9L22.7 9.9L17.9 14.6L19 21.3L13 18.1L7 21.3L8.1 14.6L3.3 9.9L10 8.9Z" stroke="#5a5d63" stroke-width="2.2" stroke-linejoin="round"/></svg>
<div class="t" style="left:1761.5px;top:822.5px;font-size:21.9px;font-weight:normal;color:#24272b;">Average FTE Cost $ (per hour)</div>
<svg class="r" style="left:1724px;top:873px;" width="26" height="26" viewBox="0 0 26 26" fill="none"><path d="M13 2.8L16 8.9L22.7 9.9L17.9 14.6L19 21.3L13 18.1L7 21.3L8.1 14.6L3.3 9.9L10 8.9Z" stroke="#3d4fc4" stroke-width="2.2" stroke-linejoin="round"/></svg>
<div class="t" style="left:1761.5px;top:876.5px;font-size:21.9px;font-weight:normal;color:#3d4fc4;">Total Cost $</div>
<svg class="r" style="left:1724px;top:927px;" width="26" height="26" viewBox="0 0 26 26" fill="none"><path d="M13 2.8L16 8.9L22.7 9.9L17.9 14.6L19 21.3L13 18.1L7 21.3L8.1 14.6L3.3 9.9L10 8.9Z" stroke="#5a5d63" stroke-width="2.2" stroke-linejoin="round"/></svg>
<div class="t" style="left:1761.5px;top:930.5px;font-size:21.9px;font-weight:normal;color:#24272b;">Total Cost €</div>
<svg class="r" style="left:1724px;top:981px;" width="26" height="26" viewBox="0 0 26 26" fill="none"><path d="M13 2.8L16 8.9L22.7 9.9L17.9 14.6L19 21.3L13 18.1L7 21.3L8.1 14.6L3.3 9.9L10 8.9Z" stroke="#5a5d63" stroke-width="2.2" stroke-linejoin="round"/></svg>
<div class="t" style="left:1761.5px;top:984.5px;font-size:21.9px;font-weight:normal;color:#24272b;">Budget Over/Underspend in €</div>
<svg class="r" style="left:1724px;top:1035px;" width="26" height="26" viewBox="0 0 26 26" fill="none"><path d="M13 2.8L16 8.9L22.7 9.9L17.9 14.6L19 21.3L13 18.1L7 21.3L8.1 14.6L3.3 9.9L10 8.9Z" stroke="#5a5d63" stroke-width="2.2" stroke-linejoin="round"/></svg>
<div class="t" style="left:1761.5px;top:1038.5px;font-size:21.9px;font-weight:normal;color:#24272b;">Cost Performance Index (CPI)</div>
<svg class="r" style="left:2100px;top:876px;" width="22" height="20" viewBox="0 0 22 20" fill="none"><path d="M3.5 10.5L8.5 15.5L18.5 4.5" stroke="#3d4fc4" stroke-width="2.4" stroke-linecap="round" stroke-linejoin="round"/></svg>
<div class="r" style="left:2123.5px;top:939px;width:8px;height:130px;background:#dadcdf;border-radius:4px;"></div>
<svg class="r" style="left:1878px;top:886px;" width="46" height="48" viewBox="1878 886 46 48" fill="none"><path d="M1894.9 911.3L1892.2 897.2Q1891.8 893.2 1894.8 893.1Q1897.4 893.1 1897.9 896.5L1899.9 906.3L1900.3 904.2Q1901.3 901.9 1903.8 902.1Q1905.9 902.4 1906.4 905.2Q1907.3 902.6 1909.6 902.7Q1912.1 903 1912.6 906.1Q1913.6 904.6 1915.8 904.9Q1918.2 905.4 1918.3 909L1918.1 916.2Q1917.6 920.3 1913.6 924.2L1913.2 927.3L1909.4 927.3L1907.1 925L1905.2 927.3L1897.9 927.3L1897.4 924.6L1887.4 912.6Q1885.4 909.6 1887.4 907.6Q1889.6 905.5 1892.1 907.6Z" fill="#fff" stroke="#111" stroke-width="2" stroke-linejoin="round"/><path d="M1901.8 913V921.3 M1906.4 913V921.3 M1910.9 913V921.3" stroke="#111" stroke-width="2"/></svg>
</body></html>
